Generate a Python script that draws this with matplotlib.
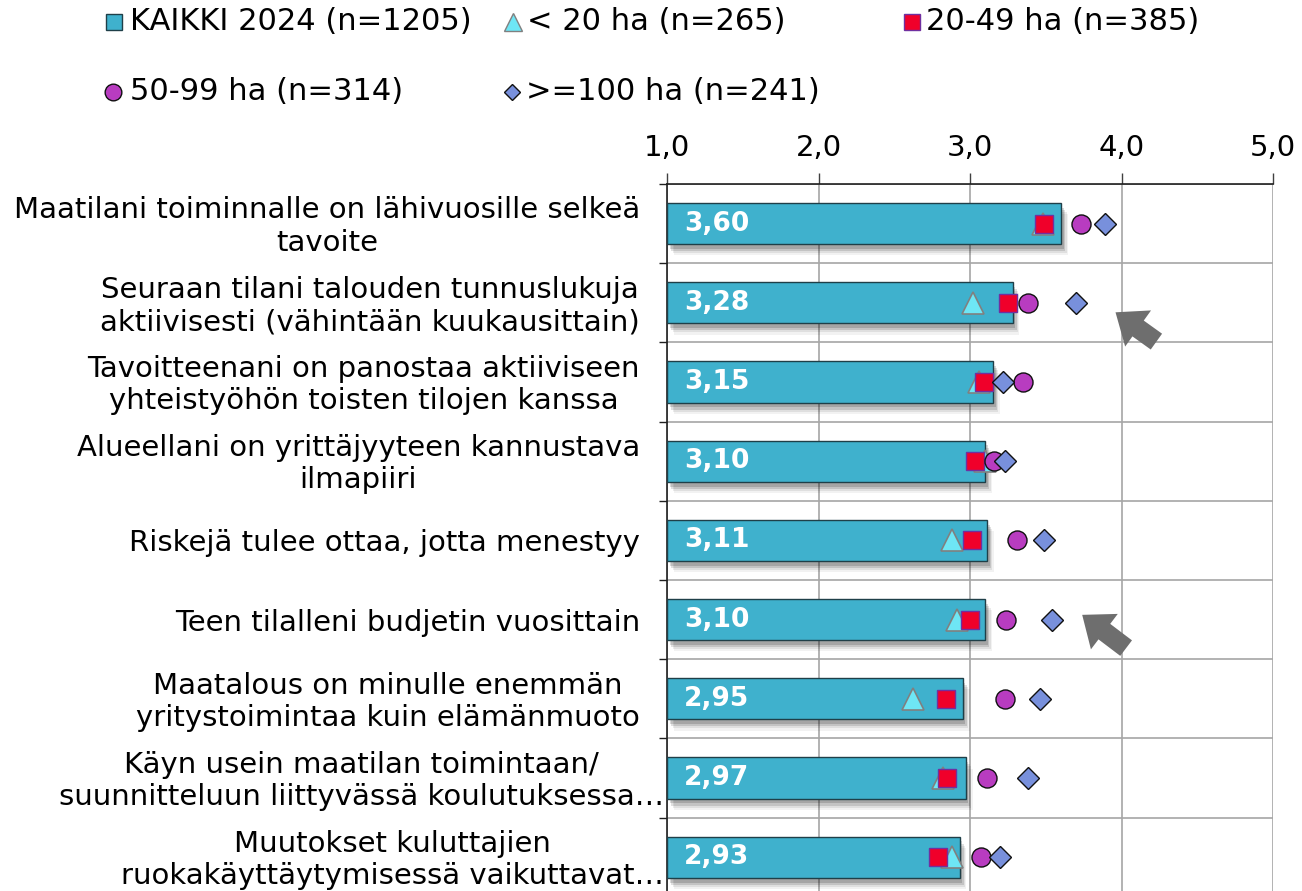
import matplotlib
matplotlib.use("Agg")
import matplotlib.pyplot as plt
import matplotlib.patheffects as pe
from matplotlib.lines import Line2D
import matplotlib.transforms as mtransforms

# ---------------- data ----------------
categories = [
    "Maatilani toiminnalle on lähivuosille selkeä\ntavoite",
    "Seuraan tilani talouden tunnuslukuja\naktiivisesti (vähintään kuukausittain)",
    "Tavoitteenani on panostaa aktiiviseen\nyhteistyöhön toisten tilojen kanssa",
    "Alueellani on yrittäjyyteen kannustava\nilmapiiri",
    "Riskejä tulee ottaa, jotta menestyy",
    "Teen tilalleni budjetin vuosittain",
    "Maatalous on minulle enemmän\nyritystoimintaa kuin elämänmuoto",
    "Käyn usein maatilan toimintaan/\nsuunnitteluun liittyvässä koulutuksessa…",
    "Muutokset kuluttajien\nruokakäyttäytymisessä vaikuttavat…",
]
kaikki_2024 = [3.60, 3.28, 3.15, 3.10, 3.11, 3.10, 2.95, 2.97, 2.93]
alle_20_ha = [3.48, 3.02, 3.06, 3.10, 2.88, 2.91, 2.62, 2.82, 2.88]
ha_20_49 = [3.49, 3.25, 3.09, 3.03, 3.01, 3.00, 2.84, 2.85, 2.79]
ha_50_99 = [3.73, 3.38, 3.35, 3.16, 3.31, 3.24, 3.23, 3.11, 3.07]
yli_100_ha = [3.89, 3.70, 3.22, 3.23, 3.49, 3.54, 3.46, 3.38, 3.20]

series_names = ["KAIKKI 2024 (n=1205)", "< 20 ha (n=265)", "20-49 ha (n=385)",
                "50-99 ha (n=314)", ">=100 ha (n=241)"]
x_ticks = [1, 2, 3, 4, 5]
x_ticklabels = ["1,0", "2,0", "3,0", "4,0", "5,0"]

# arrow annotations: (tip x, tip y, tail x, tail y) in data units
arrows = [
    (3.96, 1.12, 4.23, 1.49),
    (3.74, 4.94, 4.03, 5.36),
]

# ---------------- style ----------------
BAR_C = "#3FB1CD"
TRI_C = "#6EE6F5"
SQ_C = "#F0002A"
CIR_C = "#B83CC0"
DIA_C = "#7890DC"
FS = 21
FS_LEG = 22

plt.rcParams["font.family"] = ["DejaVu Sans"]

W, H = 1302, 891
fig = plt.figure(figsize=(W / 100, H / 100), dpi=100)

ax_left, ax_right = 667.3, 1273.0
ax_top, row_h = 184.0, 79.2
ax_bottom = ax_top + row_h * len(categories)
ax = fig.add_axes([ax_left / W, (H - ax_bottom) / H,
                   (ax_right - ax_left) / W, (ax_bottom - ax_top) / H])

n = len(categories)
ys = list(range(n))

# bars with soft shadow
shadow = [
    pe.SimplePatchShadow(offset=(5, -8), shadow_rgbFace="#000000", alpha=0.05),
    pe.SimplePatchShadow(offset=(4, -6.5), shadow_rgbFace="#000000", alpha=0.08),
    pe.SimplePatchShadow(offset=(3, -5), shadow_rgbFace="#000000", alpha=0.12),
    pe.SimplePatchShadow(offset=(2, -3.5), shadow_rgbFace="#000000", alpha=0.15),
    pe.Normal(),
]
bars = ax.barh(ys, [v - 1 for v in kaikki_2024], left=1, height=0.52,
               color=BAR_C, edgecolor="#1F3F48", linewidth=1.0, zorder=3)
for b in bars:
    b.set_path_effects(shadow)

# bar value labels
lbl_tr = mtransforms.offset_copy(ax.transData, fig=fig, x=17, y=0, units="dots")
for y, v in zip(ys, kaikki_2024):
    ax.text(1, y, f"{v:.2f}".replace(".", ","), transform=lbl_tr,
            color="white", fontsize=19, fontweight="bold",
            ha="left", va="center", zorder=5)

# markers
ax.plot(alle_20_ha, ys, ls="none", marker="^", ms=15.5, mfc=TRI_C,
        mec="#808080", mew=1.2, zorder=6)
ax.plot(ha_20_49, ys, ls="none", marker="s", ms=13.5, mfc=SQ_C,
        mec="#7030A0", mew=1.0, zorder=7)
ax.plot(ha_50_99, ys, ls="none", marker="o", ms=13.7, mfc=CIR_C,
        mec="#101010", mew=1.0, zorder=8)
ax.plot(yli_100_ha, ys, ls="none", marker="D", ms=11.0, mfc=DIA_C,
        mec="#101010", mew=1.0, zorder=9)

# axes formatting
ax.set_xlim(1, 5)
ax.set_ylim(n - 0.5, -0.5)
ax.xaxis.tick_top()
ax.set_xticks(x_ticks)
ax.set_xticklabels(x_ticklabels, fontsize=FS)
ax.tick_params(axis="x", direction="out", length=8, width=1, color="#404040", pad=8)
ax.set_yticks(ys)
ax.set_yticklabels([])
ax.tick_params(axis="y", which="major", length=0)
ax.set_yticks([i + 0.5 for i in range(-1, n)], minor=True)
ax.tick_params(axis="y", which="minor", direction="out", length=6, width=1, color="#202020")
ax.grid(axis="x", which="major", color="#A6A6A6", lw=1.2, zorder=0)
ax.grid(axis="y", which="minor", color="#A6A6A6", lw=1.2, zorder=0)
ax.set_axisbelow(True)
for s in ["right", "bottom"]:
    ax.spines[s].set_visible(False)
ax.spines["top"].set_color("#202020")
ax.spines["left"].set_color("#202020")
ax.spines["top"].set_linewidth(1.2)
ax.spines["left"].set_linewidth(1.2)

# category labels (truncated labels run up to the axis, as in the original)
base_tr = mtransforms.blended_transform_factory(ax.transAxes, ax.transData)
for y, c in zip(ys, categories):
    off = -3 if c.endswith("…") else -27.3
    tr = base_tr + mtransforms.ScaledTranslation(off / 100, -3 / 100, fig.dpi_scale_trans)
    ax.text(0, y, c, transform=tr, ha="right", va="center",
            multialignment="center", fontsize=FS, linespacing=1.2, color="#000000")

# arrows
for tx, ty, sx, sy in arrows:
    ax.annotate("", xy=(tx, ty), xytext=(sx, sy),
                arrowprops=dict(arrowstyle="simple,head_length=1.0,head_width=1.6,tail_width=0.7",
                                fc="#6E6E6E", ec="none", mutation_scale=20,
                                shrinkA=0, shrinkB=0),
                zorder=10, annotation_clip=False)

# legend (manual, figure pixel coordinates)
leg_items = [
    ("s", BAR_C, "#1F3F48", 12, 114, 22),
    ("^", TRI_C, "#808080", 13, 513, 22),
    ("s", SQ_C, "#7030A0", 12, 912, 22),
    ("o", CIR_C, "#101010", 12, 113, 92),
    ("D", DIA_C, "#101010", 8.5, 512, 92),
]
for (mk, fc, ec, ms, px, py), name in zip(leg_items, series_names):
    fig.add_artist(Line2D([px / W], [1 - py / H], transform=fig.transFigure,
                          ls="none", marker=mk, ms=ms, mfc=fc, mec=ec, mew=1.0))
    text_x = 130 if px < 300 else px + 14
    fig.text(text_x / W, 1 - py / H, name, fontsize=FS_LEG, ha="left", va="center")

fig.savefig("out.png", dpi=100)
